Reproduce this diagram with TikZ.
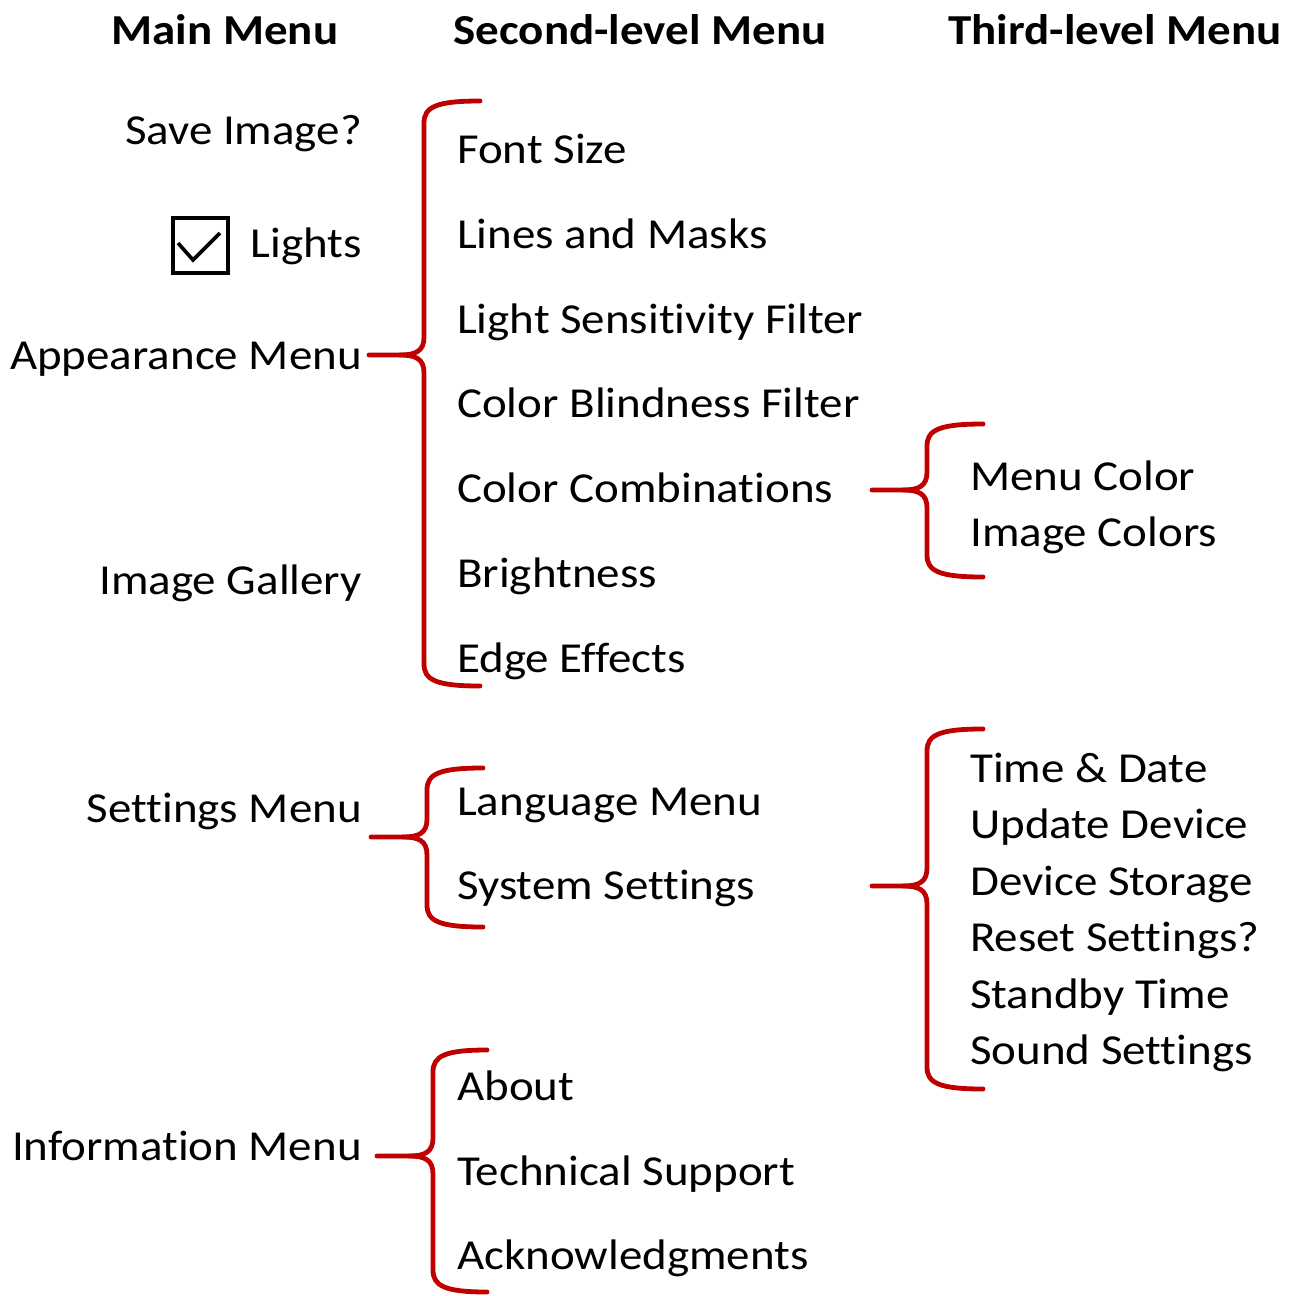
\documentclass[tikz,border=0pt]{standalone}
\usepackage{fontspec}
\setmainfont{Carlito}[FakeStretch=1.1,Ligatures={NoCommon}]
\definecolor{brcred}{RGB}{192,0,0}
\newcommand\bracedraw[6]{%
 \draw[brc] (#1,#2) -- ({#3-24},#2) .. controls ({#3-8},#2) and (#3,{#2-4}) .. (#3,{#2-18}) -- (#3,{#4+22}) .. controls (#3,{#4+6}) and ({#3+12},#4) .. (#6,#4);
 \draw[brc] ({#3-24},#2) .. controls ({#3-8},#2) and (#3,{#2+4}) .. (#3,{#2+18}) -- (#3,{#5-22}) .. controls (#3,{#5-6}) and ({#3+12},#5) .. (#6,#5);}
\begin{document}
\begin{tikzpicture}[x=1pt,y=-1pt,
  lbl/.style={inner sep=0pt,font=\fontsize{42.7}{50}\selectfont},
  lft/.style={lbl,anchor=base east},
  rgt/.style={lbl,anchor=base west},
  hdr/.style={inner sep=0pt,anchor=base,font=\fontsize{42.7}{50}\selectfont\bfseries},
  brc/.style={draw=brcred,line width=4.8pt,line cap=round,line join=round}]
\useasboundingbox (0,0) rectangle (1294,1296);
% headers
\node[hdr] (h1) at (225,44) {Main Menu};
\node[hdr] (h2) at (640,44) {Second-level Menu};
\node[hdr] (h3) at (1115,44) {Third-level Menu};
% main menu
\node[lft] (save) at (362,144) {Save Image?};
\node[lft] (lights) at (362,257) {Lights};
\node[lft] (appear) at (362,369) {Appearance Menu};
\node[lft] (gallery) at (362,594) {Image Gallery};
\node[lft] (settings) at (362,822) {Settings Menu};
\node[lft] (info) at (362,1160) {Information Menu};
% checkbox
\draw[line width=3.2pt] (173,218) rectangle (228,273);
\draw[line width=3.6pt,line join=miter] (178,243) -- (193,260) -- (220,233);
% second level
\node[rgt] (fs) at (457,163) {Font Size};
\node[rgt] (lm) at (457,248) {Lines and Masks};
\node[rgt] (lsf) at (457,333) {Light Sensitivity Filter};
\node[rgt] (cbf) at (457,417) {Color Blindness Filter};
\node[rgt] (cc) at (457,502) {Color Combinations};
\node[rgt] (br) at (457,587) {Brightness};
\node[rgt] (ee) at (457,672) {Edge Effects};
\node[rgt] (lang) at (457,815) {Language Menu};
\node[rgt] (sys) at (457,899) {System Settings};
\node[rgt] (about) at (457,1100) {About};
\node[rgt] (tech) at (457,1185) {Technical Support};
\node[rgt] (ack) at (457,1269) {Acknowledgments};
% third level
\node[rgt] (mc) at (970,490) {Menu Color};
\node[rgt] (ic) at (970,546) {Image Colors};
\node[rgt] (td) at (970,782) {Time \& Date};
\node[rgt] (ud) at (970,838) {Update Device};
\node[rgt] (ds) at (970,895) {Device Storage};
\node[rgt] (rs) at (970,951) {Reset Settings?};
\node[rgt] (st) at (970,1008) {Standby Time};
\node[rgt] (ss) at (970,1064) {Sound Settings};
% braces
\bracedraw{369}{355}{424}{101}{686}{480}
\bracedraw{872}{490}{927}{424}{577}{983}
\bracedraw{371}{837}{427}{768}{927}{483}
\bracedraw{872}{886}{927}{729}{1089}{983}
\bracedraw{377}{1156}{433}{1050}{1292}{487}
\end{tikzpicture}
\end{document}
